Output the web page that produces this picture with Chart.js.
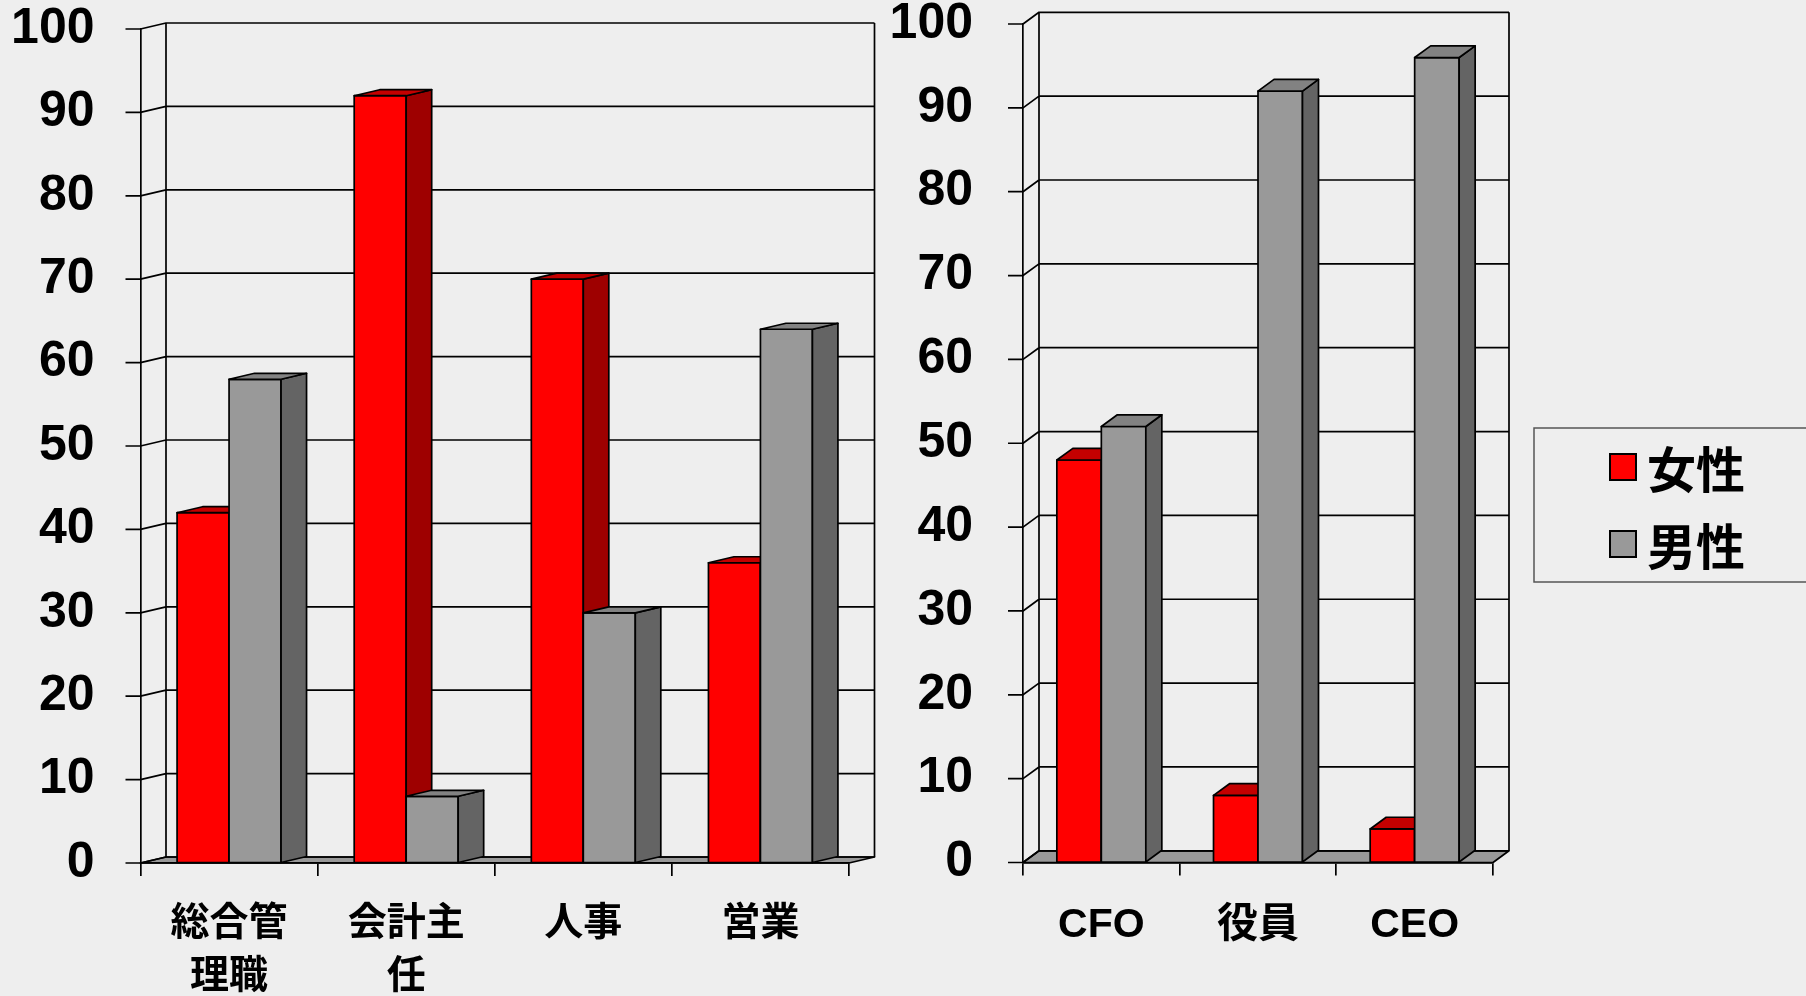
<!DOCTYPE html>
<html>
<head>
<meta charset="utf-8">
<script src="https://cdn.jsdelivr.net/npm/chart.js@4.4.1/dist/chart.umd.min.js"></script>
<style>
html, body { margin: 0; padding: 0; background: #eeeeee; width: 1806px; height: 996px; overflow: hidden; }
canvas { position: absolute; top: 0; }
#left { left: 0; }
#right { left: 870px; }
</style>
</head>
<body>
<canvas id="left" width="900" height="996"></canvas>
<canvas id="right" width="936" height="996"></canvas>
<script>
// 職種別・役職別の男女比 (%)
var seriesNames = ['女性', '男性'];
var leftLabels = [['総合管', '理職'], ['会計主', '任'], '人事', '営業'];
var leftFemale = [42, 92, 70, 36];
var leftMale = [58, 8, 30, 64];
var rightLabels = ['CFO', '役員', 'CEO'];
var rightFemale = [48, 8, 4];
var rightMale = [52, 92, 96];

var fronts = ['#ff0000', '#999999'];
var tops = ['#c40000', '#828282'];
var sides = ['#9e0000', '#646464'];
var FONT = "'Liberation Sans', Arial, 'Noto Sans CJK JP', sans-serif";
var Y_TICK = 15;

function face(ctx, pts, fill) {
    ctx.beginPath();
    ctx.moveTo(pts[0], pts[1]);
    for (var k = 2; k < pts.length; k += 2) ctx.lineTo(pts[k], pts[k + 1]);
    ctx.closePath();
    ctx.fillStyle = fill;
    ctx.fill();
    ctx.stroke();
}

// 疑似3D: 床・奥の壁・棒の側面と上面
var box3d = {
    id: 'box3d',
    beforeDraw: function (chart, args, o) {
        var ctx = chart.ctx, a = chart.chartArea, yAxis = chart.scales.y;
        var dx = o.dx, dy = o.dy;
        ctx.save();
        ctx.strokeStyle = '#000';
        ctx.lineWidth = 1.7;
        ctx.lineJoin = 'round';
        face(ctx, [a.left, a.bottom, a.right, a.bottom, a.right + dx, a.bottom + dy, a.left + dx, a.bottom + dy], '#999999');
        ctx.beginPath();
        yAxis.ticks.forEach(function (t) {
            var py = yAxis.getPixelForValue(t.value);
            // 目盛り線 → 側壁の斜線 → 奥の壁の補助線
            ctx.moveTo(a.left - Y_TICK, py);
            ctx.lineTo(a.left, py);
            ctx.lineTo(a.left + dx, py + dy);
            ctx.lineTo(a.right + dx, py + dy);
        });
        ctx.moveTo(a.left + dx, a.top + dy);
        ctx.lineTo(a.left + dx, a.bottom + dy);
        ctx.moveTo(a.right + dx, a.top + dy);
        ctx.lineTo(a.right + dx, a.bottom + dy);
        ctx.stroke();
        ctx.restore();
    },
    beforeDatasetsDraw: function (chart, args, o) {
        var ctx = chart.ctx, dx = o.dx, dy = o.dy;
        ctx.save();
        ctx.strokeStyle = '#000';
        ctx.lineWidth = 1.7;
        ctx.lineJoin = 'round';
        for (var i = 0; i < chart.data.labels.length; i++) {
            for (var d = 0; d < chart.data.datasets.length; d++) {
                var p = chart.getDatasetMeta(d).data[i].getProps(['x', 'y', 'base', 'width'], true);
                var x1 = p.x - p.width / 2, x2 = p.x + p.width / 2;
                face(ctx, [x1, p.y, x2, p.y, x2, p.base, x1, p.base], fronts[d]);
                face(ctx, [x2, p.y, x2 + dx, p.y + dy, x2 + dx, p.base + dy, x2, p.base], sides[d]);
                face(ctx, [x1, p.y, x2, p.y, x2 + dx, p.y + dy, x1 + dx, p.y + dy], tops[d]);
            }
        }
        ctx.restore();
        return false;
    }
};

// 枠付きの凡例
var boxLegend = {
    id: 'boxLegend',
    afterDraw: function (chart, args, o) {
        var ctx = chart.ctx;
        ctx.save();
        ctx.strokeStyle = '#555';
        ctx.lineWidth = 1.5;
        ctx.strokeRect(o.x, o.y, chart.width - o.x + 10, o.h);
        chart.data.datasets.forEach(function (ds, i) {
            var cy = o.y + o.first + i * o.gap;
            ctx.fillStyle = ds.backgroundColor;
            ctx.fillRect(o.swatchX, cy - 13, 26, 26);
            ctx.strokeStyle = '#000';
            ctx.lineWidth = 2;
            ctx.strokeRect(o.swatchX, cy - 13, 26, 26);
            ctx.fillStyle = '#000';
            ctx.font = "bold 49px 'Noto Sans CJK JP', sans-serif";
            ctx.textBaseline = 'middle';
            ctx.fillText(ds.label, o.textX, cy + 2);
        });
        ctx.restore();
    }
};

function makeChart(id, labels, female, male, g, extra) {
    var plugins = [box3d];
    if (extra) plugins.push(extra);
    return new Chart(document.getElementById(id), {
        type: 'bar',
        data: {
            labels: labels,
            datasets: [
                { label: seriesNames[0], data: female, backgroundColor: fronts[0] },
                { label: seriesNames[1], data: male, backgroundColor: fronts[1] }
            ]
        },
        options: {
            responsive: false,
            animation: false,
            events: [],
            datasets: { bar: { categoryPercentage: g.cat, barPercentage: 1 } },
            layout: { autoPadding: false, padding: { left: 0, right: g.padRight, top: g.padTop, bottom: 0 } },
            plugins: {
                legend: { display: false },
                tooltip: { enabled: false },
                box3d: { dx: g.dx, dy: g.dy },
                boxLegend: g.legend || {}
            },
            scales: {
                x: {
                    grid: { drawOnChartArea: false, color: '#000', lineWidth: 1.7, tickLength: 13 },
                    border: { color: '#000', width: 1.7 },
                    ticks: {
                        color: '#000', padding: 22, autoSkip: false, maxRotation: 0,
                        font: { family: FONT, size: g.xFont, weight: 'bold', lineHeight: 1.36 }
                    },
                    afterFit: function (s) { s.height = g.xHeight; }
                },
                y: {
                    min: 0, max: 100,
                    // 目盛り線はプラグイン側で描くので、ここはラベルとの間隔だけ確保する
                    grid: { drawOnChartArea: false, color: 'rgba(0,0,0,0)', tickLength: Y_TICK + g.yPad },
                    border: { color: '#000', width: 1.7 },
                    ticks: {
                        stepSize: 10, color: '#000', padding: 0,
                        font: { family: FONT, size: 50, weight: 'bold', lineHeight: 0.05 }
                    },
                    afterFit: function (s) { s.width = g.yWidth; }
                }
            }
        },
        plugins: plugins
    });
}

var leftChart = makeChart('left', leftLabels, leftFemale, leftMale, {
    cat: 0.587, padRight: 51, padTop: 29, yWidth: 140.5, xHeight: 133, yPad: 31, dx: 25.5, dy: -6, xFont: 39
});

var rightChart = makeChart('right', rightLabels, rightFemale, rightMale, {
    cat: 0.568, padRight: 313, padTop: 24, yWidth: 153, xHeight: 133.5, yPad: 35, dx: 16, dy: -11.7, xFont: 41,
    legend: { x: 664, y: 428, h: 154, first: 39, gap: 77, swatchX: 740, textX: 777 }
}, boxLegend);
</script>
</body>
</html>
